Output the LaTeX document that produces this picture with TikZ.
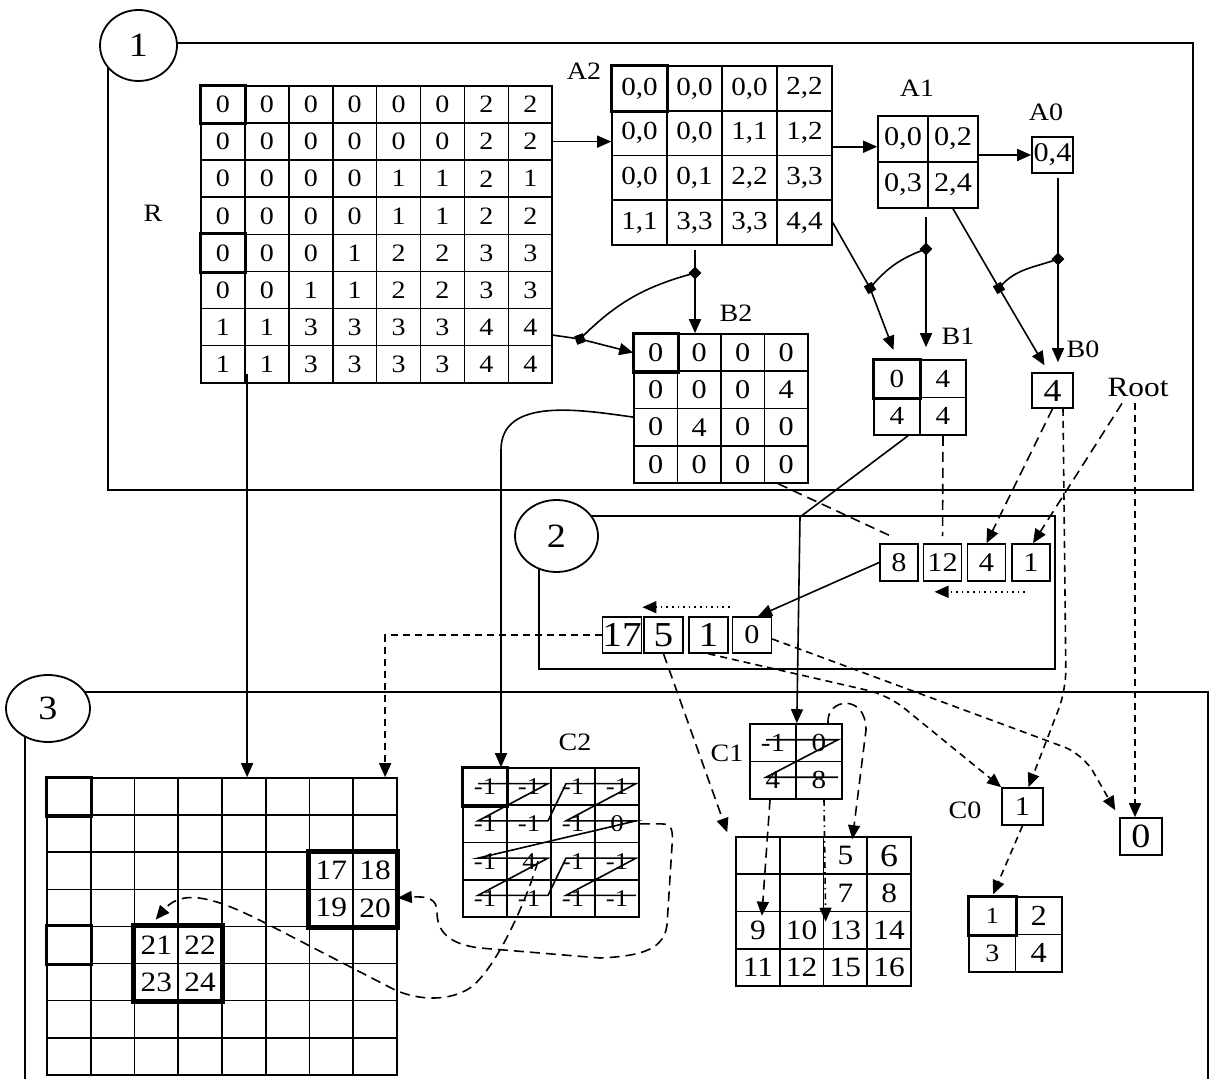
\documentclass[tikz,border=0pt]{standalone}
\usepackage{fontspec}
\setmainfont[FakeStretch=1.12]{Liberation Serif}
\usetikzlibrary{arrows.meta,positioning,shapes.geometric}

% one grid of cells: name, left, top, cell width, cell height, font size, rows
\newcommand{\cellgrid}[7]{%
  \foreach \row [count=\i from 0] in {#7} {
    \foreach \val [count=\j from 0] in \row {
      \node[cellbox, minimum width=#4*0.5pt, minimum height=#5*0.5pt,
            font=\fontsize{#6}{#6}\selectfont]
        (#1-\i-\j) at ({#2+(\j+0.5)*#4}, {#3+(\i+0.5)*#5}) {\val};
    }
  }%
}

\tikzset{
  cellbox/.style={draw, line width=0.8pt, inner sep=0pt},
  thickcell/.style={line width=1.6pt},
  blockline/.style={line width=2.4pt},
  frame/.style={line width=0.9pt},
  tag/.style={font=\fontsize{12.5}{12.5}\selectfont},
  bubble/.style={ellipse, draw, fill=white, line width=0.9pt, inner sep=0pt,
                 font=\fontsize{17}{17}\selectfont},
  link/.style={line width=0.8pt, -{Triangle[length=7pt,width=6pt]}},
  longdash/.style={dash pattern=on 5pt off 3pt},
  shortdash/.style={dash pattern=on 3.5pt off 2.5pt},
  dashdot/.style={dash pattern=on 3pt off 2pt on 0.8pt off 2pt},
  joint/.style={rectangle, fill=black, minimum size=4.5pt, inner sep=0pt},
  zline/.style={line width=0.8pt},
  zl/.style={xshift=-3.5pt, yshift=1.5pt},
  zr/.style={xshift=9.5pt, yshift=1.5pt},
}

\begin{document}
\begin{tikzpicture}[x=0.5pt, y=-0.5pt]
    \useasboundingbox (0,0) rectangle (1210,1079);

    % Frames of the three stages
    \draw[frame] (108,43) rectangle (1193,490);
    \draw[frame] (539,516) rectangle (1055,669);
    \draw[frame] (25,1079) -- (25,692) -- (1208,692) -- (1208,1079);
    \node[bubble, minimum width=38.5pt, minimum height=35.5pt] (e1) at (138.5,45.5) {1};
    \node[bubble, minimum width=41.5pt, minimum height=36pt] (e2) at (556.5,536) {2};
    \node[bubble, minimum width=42pt, minimum height=33.5pt] (e3) at (48,708.5) {3};

    % --- STAGE 1: R and the two pyramids ---
    \cellgrid{R}{201}{86}{43.9}{37.1}{12.5}{%
{0,0,0,0,0,0,2,2},{0,0,0,0,0,0,2,2},{0,0,0,0,1,1,2,1},{0,0,0,0,1,1,2,2},%
{0,0,0,1,2,2,3,3},{0,0,1,1,2,2,3,3},{1,1,3,3,3,3,4,4},{1,1,3,3,3,3,4,4}}
    \cellgrid{A2}{612}{66}{55}{44.75}{13}{%
{{0,0},{0,0},{0,0},{2,2}},{{0,0},{0,0},{1,1},{1,2}},%
{{0,0},{0,1},{2,2},{3,3}},{{1,1},{3,3},{3,3},{4,4}}}
    \cellgrid{A1}{878}{116}{50}{46}{13.5}{{{0,0},{0,2}},{{0,3},{2,4}}}
    \node[cellbox, minimum width=20.5pt, minimum height=18pt, font=\fontsize{13.5}{13.5}\selectfont] (A0) at (1052.5,155) {0,4};
    \cellgrid{B2}{634}{334}{43.5}{37.25}{13.5}{{0,0,0,0},{0,0,0,4},{0,4,0,0},{0,0,0,0}}
    \cellgrid{B1}{874}{360}{46}{37.5}{13}{{0,4},{4,4}}
    \node[cellbox, minimum width=20.5pt, minimum height=17.5pt, font=\fontsize{16}{16}\selectfont] (B0) at (1052.5,390.5) {4};

    \node[tag] (labR) at (153,213) {R};
    \node[tag] (labA2) at (584,71) {A2};
    \node[tag] (labA1) at (917,88) {A1};
    \node[tag] (labA0) at (1046,112) {A0};
    \node[tag] (labB2) at (736,313) {B2};
    \node[tag] (labB1) at (958,336) {B1};
    \node[tag] (labB0) at (1083,349) {B0};
    \node[font=\fontsize{14}{14}\selectfont] (root) at (1138,387) {Root};

    % Pyramid links with their joints
    \node[joint, rotate=45] (d1) at (695,273) {};
    \node[joint, rotate=20] (j1) at (580,339) {};
    \node[joint, rotate=45] (d2) at (926,249) {};
    \node[joint, rotate=30] (j2) at (870,288) {};
    \node[joint, rotate=45] (d3) at (1058,259) {};
    \node[joint, rotate=30] (j3) at (999,288) {};

    \draw[link] (R-1-7.east) -- (R-1-7.east -| A2-1-0.west);
    \draw[link] ([yshift=-6.8pt]A2-1-3.east) -- ([yshift=-6.8pt]A2-1-3.east -| A1-0-0.west);
    \draw[link] (A1-0-1.east |- A0.west) -- (A0.west);

    \draw[link, shorten <=2pt] (d1.center |- A2-3-1.south) -- (d1.center |- B2-0-1.north);
    \draw[link] ([yshift=-4pt]R-6-7.east) -- (j1.center) -- (B2-0-0.west);
    \draw[line width=0.8pt] (j1.center) to[out=45,in=195] (d1.center);

    \draw[link, shorten >=5pt] (A2-3-3.east) -- (j2.center) -- (B1-0-0.north);
    \draw[link, shorten <=4pt, shorten >=6pt] (d2.center |- A1-1-0.south) -- (d2.center |- B1-0-1.north);
    \draw[line width=0.8pt] (j2.center) to[out=50,in=200] (d2.center);

    \draw[link, shorten >=4pt] (A1-1-1.south) -- (j3.center) -- ([xshift=-2pt]B0.north);
    \draw[link, shorten <=2pt, shorten >=5pt] (d3.center |- A0.south) -- (d3.center |- B0.north);
    \draw[line width=0.8pt] (j3.center) to[out=50,in=200] (d3.center);

    % --- STAGE 2: the two queues ---
    \tikzset{qbox/.style={cellbox, minimum width=19pt, minimum height=18.5pt, font=\fontsize{13.5}{13.5}\selectfont},
             pbox/.style={cellbox, minimum width=19.5pt, minimum height=18pt, font=\fontsize{17.5}{17.5}\selectfont}}
    \node[qbox] (q8) at (899,562.5) {8};
    \node[qbox] (q12) at (942.5,562.5) {12};
    \node[qbox] (q4) at (986.5,562.5) {4};
    \node[qbox] (q1) at (1031,562.5) {1};
    \node[pbox] (p17) at (622,635) {17};
    \node[pbox] (p5) at (663.5,635) {5};
    \node[pbox] (p1) at (708.5,635) {1};
    \node[pbox, font=\fontsize{13.5}{13.5}\selectfont] (p0) at (752,635) {0};

    \draw[line width=0.8pt, longdash] ([xshift=-4pt]B2-3-3.south) -- ([xshift=7pt,yshift=3pt]q8.north west);
    \draw[line width=0.8pt, longdash, shorten >=3.5pt] (B1-1-1.south) -- (q12.north);
    \draw[link, longdash] (B0.south) -- (q4.north);
    \draw[link, longdash] ([xshift=-8pt]root.south) -- ([xshift=1pt]q1.north);
    \draw[link, dotted] ([xshift=-3pt,yshift=-5pt]q1.south) -- ([xshift=-4pt,yshift=-5pt]q12.south);
    \draw[link] (q8.west) -- ([xshift=3pt]p0.north);
    \draw[link, dotted] ([xshift=10.5pt,yshift=4.5pt]p1.north) -- ([yshift=4.5pt]p17.north east);

    % --- STAGE 3: the output blocks ---
    \cellgrid{img}{47}{778}{43.75}{37.1}{14}{%
{{},{},{},{},{},{},{},{}},{{},{},{},{},{},{},{},{}},%
{{},{},{},{},{},{},17,18},{{},{},{},{},{},{},19,20},%
{{},{},21,22,{},{},{},{}},{{},{},23,24,{},{},{},{}},%
{{},{},{},{},{},{},{},{}},{{},{},{},{},{},{},{},{}}}
    \draw[blockline] (img-2-6.north west) rectangle (img-3-7.south east);
    \draw[blockline] (img-4-2.north west) rectangle (img-5-3.south east);

    \cellgrid{C2}{463}{768}{44}{37.25}{12}{{-1,-1,-1,-1},{-1,-1,-1,0},{-1,4,-1,-1},{-1,-1,-1,-1}}
    \cellgrid{C1}{750}{724}{46}{37.5}{13}{{-1,0},{4,8}}
    \cellgrid{blk}{736}{837}{43.75}{37.25}{14}{{{},{},5,{\fontsize{16}{16}\selectfont 6}},{{},{},7,8},{9,10,13,14},{11,12,15,16}}
    \node[cellbox, minimum width=20.5pt, minimum height=18.5pt, font=\fontsize{13.5}{13.5}\selectfont] (C0) at (1022.5,806.5) {1};
    \node[cellbox, minimum width=21pt, minimum height=18.5pt, font=\fontsize{17}{17}\selectfont] (z0) at (1141,836.5) {0};
    \cellgrid{sg}{969}{897}{46.5}{37.5}{14.5}{{{\fontsize{11.5}{11.5}\selectfont 1},2},{{\fontsize{12.5}{12.5}\selectfont 3},4}}

    \foreach \c in {R-0-0,R-4-0,A2-0-0,B2-0-0,B1-0-0,C2-0-0,img-0-0,img-4-0,sg-0-0}
        \draw[thickcell] (\c.north west) rectangle (\c.south east);

    \node[tag] (labC2) at (575,742) {C2};
    \node[tag] (labC1) at (727,753) {C1};
    \node[tag] (labC0) at (965,810) {C0};

    % Z-order strokes through the cells
    \draw[zline] ([zl]C2-0-0.center) -- ([zr]C2-0-1.center) -- ([zl]C2-1-0.center) -- ([zr]C2-1-1.center)
        -- ([zl]C2-0-2.center) -- ([zr]C2-0-3.center) -- ([zl]C2-1-2.center) -- ([zr]C2-1-3.center)
        -- ([zl]C2-2-0.center) -- ([zr]C2-2-1.center) -- ([zl]C2-3-0.center) -- ([zr]C2-3-1.center)
        -- ([zl]C2-2-2.center) -- ([zr]C2-2-3.center) -- ([zl]C2-3-2.center) -- ([zr]C2-3-3.center);
    \draw[zline] ([zl]C1-0-0.center) -- ([zr]C1-0-1.center) -- ([zl]C1-1-0.center) -- ([zr]C1-1-1.center);

    % Links into stage 3
    \coordinate (c2turn) at (501,450);
    \coordinate (b1bend) at (800,517);
    \coordinate (b0bend) at (1066,690);
    \coordinate (p1bend) at (888,695);
    \coordinate (zbend) at (1083,754);

    \draw[link] ([xshift=1.5pt,yshift=5pt]R-7-1.south west) -- ([xshift=1.5pt]R-7-1.south west |- img-0-4.north);
    \draw[link] ([yshift=5pt]B2-2-0.west) to[out=172,in=90] (c2turn) -- (c2turn |- C2-0-0.north);
    \draw[link] ([xshift=5.5pt]B1-1-0.south) -- (b1bend) -- (C1-0-0.north east);
    \draw[link, shortdash, rounded corners=10pt] ([xshift=5.25pt]B0.south) -- (b0bend) -- ([xshift=3pt]C0.north);
    \draw[link, shortdash] ([xshift=-3pt]z0.north |- root.south) -- ([xshift=-3pt]z0.north);

    \draw[link, shortdash] (p17.west) -| ([xshift=5pt]img-0-7.north);
    \draw[link, longdash] (p5.south) -- ([xshift=-4pt,yshift=2pt]blk-0-0.north west);
    \draw[link, shortdash, rounded corners=10pt] (p1.south) -- (p1bend) -- (C0.north west);
    \draw[link, shortdash, rounded corners=10pt, shorten >=4pt] ([yshift=-2pt]p0.east) -- (zbend) -- (z0.north west);

    \draw[link, longdash] (C2-1-3.east) -- ++(22,0) .. controls (673,824) and (673,832) .. (672,846)
        -- (667,925) .. controls (664,948) and (645,956) .. (600,958) -- (480,948)
        .. controls (447,944) and (437,930) .. (437,912) .. controls (437,899) and (428,896) .. ([yshift=5pt]img-3-7.east);
    \draw[link, longdash] ([xshift=4.5pt]C2-2-1.center) .. controls (525,905) and (495,970) .. (470,988)
        .. controls (450,1001) and (420,1001) .. (395,990) -- (275,928)
        .. controls (225,902) and (185,885) .. ([xshift=11pt,yshift=3pt]img-4-2.north west);

    \draw[link, longdash] ([xshift=4.5pt]C1-0-1.north) .. controls (826,698) and (866,693) .. (866,730)
        -- ([xshift=3.5pt,yshift=-1.5pt]blk-0-2.north);
    \draw[link, longdash] ([xshift=-1.5pt]C1-1-0.south) -- ([xshift=2pt,yshift=-2.5pt]blk-2-0.north);
    \draw[link, dashdot] ([xshift=2.5pt]C1-1-1.south) -- ([xshift=1.5pt,yshift=-5.5pt]blk-2-2.north west);
    \draw[link, shortdash, shorten >=1pt] (C0.south) -- (sg-0-0.north);

\end{tikzpicture}
\end{document}
